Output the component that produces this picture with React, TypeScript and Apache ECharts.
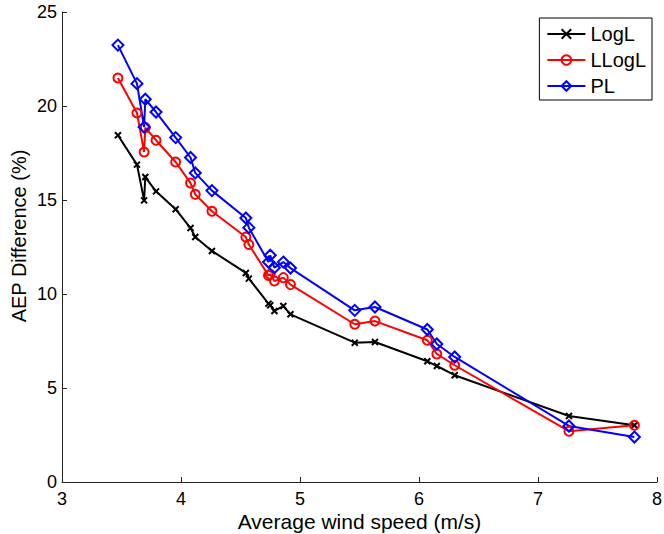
import React, { useEffect, useRef } from "react";
import * as echarts from "echarts";

const windSpeed = [3.47, 3.63, 3.69, 3.70, 3.79, 3.955, 4.08, 4.12, 4.26, 4.545, 4.57, 4.735, 4.75, 4.785, 4.86, 4.92, 5.46, 5.63, 6.07, 6.15, 6.30, 7.26, 7.81];
const logL = [18.44, 16.88, 14.98, 16.22, 15.46, 14.51, 13.51, 13.03, 12.29, 11.12, 10.82, 9.49, 9.40, 9.10, 9.36, 8.92, 7.41, 7.45, 6.42, 6.17, 5.68, 3.51, 3.02];
const lLogL = [21.49, 19.63, 17.55, 18.85, 18.18, 17.02, 15.90, 15.30, 14.40, 13.03, 12.63, 10.99, 11.05, 10.69, 10.87, 10.50, 8.39, 8.56, 7.54, 6.81, 6.21, 2.70, 3.02];
const pl = [23.24, 21.19, 18.88, 20.36, 19.68, 18.32, 17.26, 16.44, 15.50, 14.04, 13.53, 11.70, 12.06, 11.40, 11.70, 11.38, 9.13, 9.31, 8.11, 7.34, 6.65, 2.98, 2.39];
const xTicks = { min: 3, max: 8, interval: 1 };
const yTicks = { min: 0, max: 25, interval: 5 };

const FONT = "Liberation Sans, Arial, Helvetica, sans-serif";

export default function App() {
  const ref = useRef<HTMLDivElement>(null);
  useEffect(() => {
    if (!ref.current) return;
    const chart = echarts.init(ref.current, undefined, { renderer: "svg" });
    const pairs = (ys: number[]) => windSpeed.map((x, i) => [x, ys[i]]);
    const axisCommon = {
      axisLine: { show: true, lineStyle: { color: "#222", width: 1 } },
      axisTick: { show: true, inside: true, length: 5, lineStyle: { color: "#222" } },
      splitLine: { show: false },
      nameLocation: "middle" as const,
      nameMoveOverlap: false,
      axisLabel: { fontFamily: FONT, fontSize: 18, color: "#000" },
    };
    chart.setOption({
      animation: false,
      backgroundColor: "#fff",
      grid: { left: 62, right: 7, top: 12, bottom: 52, containLabel: false, outerBoundsMode: "none" },
      xAxis: {
        type: "value",
        ...xTicks,
        ...axisCommon,
        name: "Average wind speed (m/s)",
        nameGap: 29,
        nameTextStyle: { fontFamily: FONT, fontSize: 21, color: "#000" },
        axisLabel: { ...axisCommon.axisLabel, margin: 8 },
      },
      yAxis: {
        type: "value",
        ...yTicks,
        ...axisCommon,
        name: "AEP Difference (%)",
        nameGap: 33,
        nameTextStyle: { fontFamily: FONT, fontSize: 20, color: "#000", padding: [0, 0, 0, 22] },
        axisLabel: { ...axisCommon.axisLabel, margin: 5 },
      },
      legend: {
        orient: "vertical",
        right: 12,
        top: 18,
        backgroundColor: "#fff",
        borderColor: "#000",
        borderWidth: 1,
        borderRadius: 0,
        padding: [6, 6, 4, 7],
        itemGap: 6,
        itemWidth: 38,
        itemHeight: 12,
        textStyle: { fontFamily: FONT, fontSize: 20, color: "#000" },
        data: ["LogL", "LLogL", "PL"],
      },
      series: [
        {
          name: "LogL",
          type: "line",
          data: pairs(logL),
          symbol: "path://M0,0L10,10M10,0L0,10",
          symbolSize: 6,
          lineStyle: { color: "#000", width: 2 },
          itemStyle: { color: "#000", borderColor: "#000", borderWidth: 2 },
        },
        {
          name: "LLogL",
          type: "line",
          data: pairs(lLogL),
          symbol: "circle",
          symbolSize: 9,
          lineStyle: { color: "#ff0000", width: 2 },
          itemStyle: { color: "rgba(255,255,255,0)", borderColor: "#ff0000", borderWidth: 2 },
        },
        {
          name: "PL",
          type: "line",
          data: pairs(pl),
          symbol: "diamond",
          symbolSize: 11,
          lineStyle: { color: "#0000ff", width: 2 },
          itemStyle: { color: "rgba(255,255,255,0)", borderColor: "#0000ff", borderWidth: 2 },
        },
      ],
    });
    return () => chart.dispose();
  }, []);
  return (
    <div
      ref={ref}
      style={{ position: "fixed", left: 0, top: 0, width: 664, height: 534, background: "#fff" }}
    />
  );
}
